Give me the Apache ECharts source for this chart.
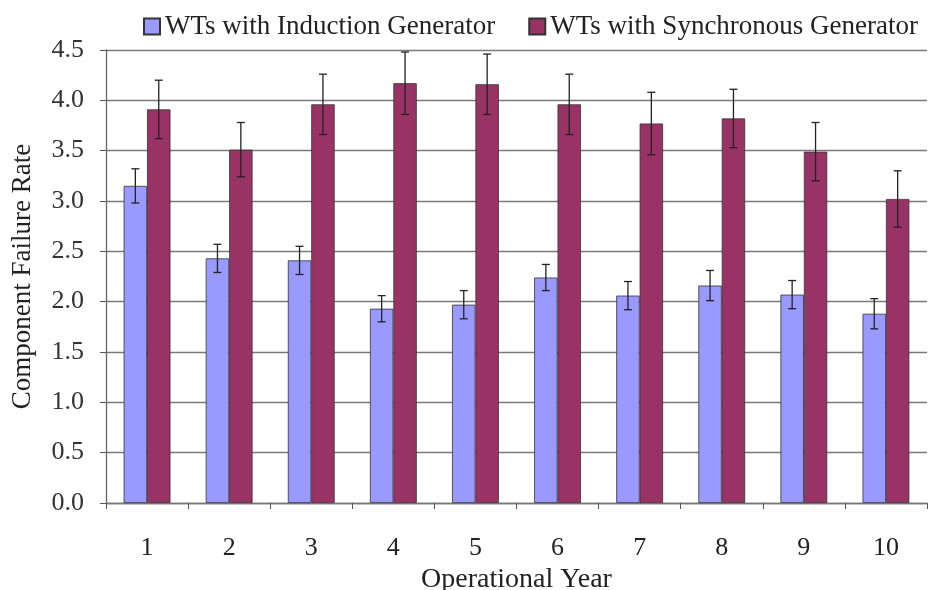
<!DOCTYPE html>
<html>
<head>
<meta charset="utf-8">
<script src="https://cdn.jsdelivr.net/npm/echarts@6/dist/echarts.min.js"></script>
<style>html,body{margin:0;padding:0;background:#fff}#c{width:928px;height:590px}</style>
</head>
<body>
<div id="c"></div>
<script>
var categories = ['1','2','3','4','5','6','7','8','9','10'];
var inductionValues = [3.15, 2.43, 2.41, 1.93, 1.97, 2.24, 2.06, 2.16, 2.07, 1.88];
var inductionErrors = [0.17, 0.14, 0.14, 0.13, 0.14, 0.13, 0.14, 0.15, 0.14, 0.15];
var synchronousValues = [3.91, 3.51, 3.96, 4.17, 4.16, 3.96, 3.77, 3.82, 3.49, 3.02];
var synchronousErrors = [0.29, 0.27, 0.30, 0.31, 0.30, 0.30, 0.31, 0.29, 0.29, 0.28];
var seriesNames = ['WTs with Induction Generator', 'WTs with Synchronous Generator'];
var yTicks = [0, 0.5, 1.0, 1.5, 2.0, 2.5, 3.0, 3.5, 4.0, 4.5];

var FONT = "'Liberation Serif', 'Times New Roman', serif";
var CAT_GAP = 0.43;

function errData(vals, errs) {
  return vals.map(function (v, i) { return [i, v, errs[i]]; });
}
function makeErr(side) {
  return function (params, api) {
    var idx = api.value(0), v = api.value(1), e = api.value(2);
    var band = api.size([1, 0])[0];
    var barW = band * (1 - CAT_GAP) / 2;
    var c = api.coord([idx, v]);
    var x = c[0] + side * barW / 2;
    var top = api.coord([idx, v + e])[1];
    var bot = api.coord([idx, v - e])[1];
    var cap = 4;
    var st = { stroke: '#222', lineWidth: 1.3 };
    return {
      type: 'group',
      children: [
        { type: 'line', shape: { x1: x, y1: top, x2: x, y2: bot }, style: st },
        { type: 'line', shape: { x1: x - cap, y1: top, x2: x + cap, y2: top }, style: st },
        { type: 'line', shape: { x1: x - cap, y1: bot, x2: x + cap, y2: bot }, style: st }
      ]
    };
  };
}

var chart = echarts.init(document.getElementById('c'));
chart.setOption({
  backgroundColor: '#fff',
  animation: false,
  textStyle: { fontFamily: FONT },
  legend: {
    data: seriesNames,
    top: 8, left: 138,
    itemWidth: 16, itemHeight: 16, itemGap: 33,
    icon: 'rect',
    textStyle: { fontFamily: FONT, fontSize: 27, color: '#222' }
  },
  grid: { left: 106, right: 1, top: 50, bottom: 87, containLabel: false, outerBoundsMode: 'none' },
  xAxis: {
    type: 'category',
    data: categories,
    name: 'Operational Year',
    nameLocation: 'middle',
    nameGap: 59,
    nameTextStyle: { fontFamily: FONT, fontSize: 28, color: '#222' },
    axisLine: { lineStyle: { color: '#777', width: 1.3 } },
    axisTick: { show: true, length: 6, lineStyle: { color: '#555' } },
    axisLabel: { fontFamily: FONT, fontSize: 26, color: '#222', margin: 32 }
  },
  yAxis: {
    type: 'value',
    min: 0, max: 4.5, interval: 0.5,
    name: 'Component Failure Rate',
    nameLocation: 'middle',
    nameGap: 70,
    nameTextStyle: { fontFamily: FONT, fontSize: 27, color: '#222' },
    axisLine: { show: true, lineStyle: { color: '#666', width: 1.3 } },
    axisTick: { show: true, length: 6, lineStyle: { color: '#555' } },
    axisLabel: { fontFamily: FONT, fontSize: 26, color: '#333', margin: 22,
      formatter: function (v) { return yTicks.indexOf(v) >= 0 ? v.toFixed(1) : ''; } },
    splitLine: { show: true, lineStyle: { color: '#7a7a7a', width: 1.3 } }
  },
  series: [
    {
      name: seriesNames[0], type: 'bar', data: inductionValues,
      barGap: '0%', barCategoryGap: (CAT_GAP * 100) + '%',
      itemStyle: { color: '#9999ff', borderColor: '#333', borderWidth: 0.8 }
    },
    {
      name: seriesNames[1], type: 'bar', data: synchronousValues,
      barGap: '0%', barCategoryGap: (CAT_GAP * 100) + '%',
      itemStyle: { color: '#993366', borderColor: '#333', borderWidth: 0.8 }
    },
    {
      type: 'custom', name: 'errInd', renderItem: makeErr(-1),
      data: errData(inductionValues, inductionErrors),
      encode: { x: 0, y: 1 }, z: 10, silent: true
    },
    {
      type: 'custom', name: 'errSyn', renderItem: makeErr(1),
      data: errData(synchronousValues, synchronousErrors),
      encode: { x: 0, y: 1 }, z: 10, silent: true
    }
  ]
});
</script>
</body>
</html>
